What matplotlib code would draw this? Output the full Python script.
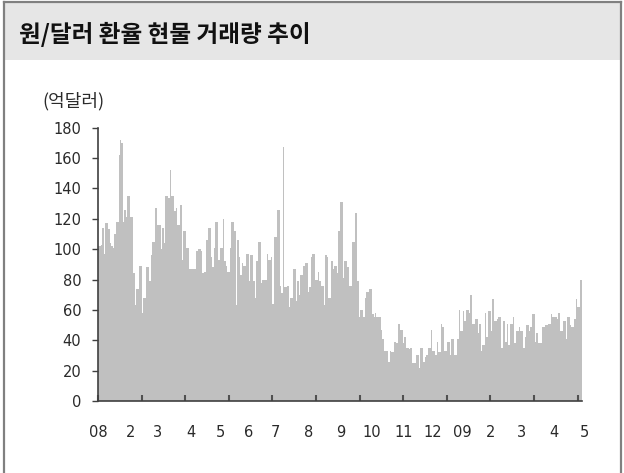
import matplotlib
matplotlib.use("Agg")
import matplotlib.pyplot as plt
from matplotlib.patches import Rectangle
from matplotlib.lines import Line2D

plt.rcParams['font.family'] = ['DejaVu Sans', 'Noto Sans CJK KR']

title = "원/달러 환율 현물 거래량 추이"
unit_label = "(억달러)"

# daily KRW/USD spot trading volume (100 million USD), Jan 2008 - early May 2009
volume = [
    102, 102, 103, 114, 97, 117, 117, 113, 104, 102,
    101, 110, 118, 118, 162, 172, 170, 118, 126, 121,
    135, 135, 121, 121, 84, 63, 74, 74, 89, 89,
    58, 68, 68, 88, 88, 79, 96, 105, 105, 127,
    116, 116, 116, 100, 114, 104, 135, 135, 134, 152,
    135, 135, 125, 127, 116, 116, 129, 93, 112, 112,
    101, 101, 87, 87, 87, 87, 87, 99, 100, 100,
    99, 84, 85, 85, 106, 114, 114, 95, 88, 101,
    118, 118, 93, 101, 101, 120, 92, 89, 85, 85,
    101, 118, 118, 112, 63, 106, 95, 83, 91, 89,
    89, 97, 97, 79, 96, 96, 79, 68, 92, 105,
    105, 78, 80, 80, 80, 97, 93, 93, 95, 64,
    108, 108, 126, 126, 76, 71, 167, 75, 75, 76,
    62, 68, 68, 87, 87, 66, 79, 70, 83, 83,
    89, 91, 91, 72, 75, 95, 97, 97, 80, 80,
    85, 79, 76, 76, 63, 96, 95, 68, 68, 92,
    87, 89, 89, 84, 112, 131, 131, 81, 92, 92,
    88, 76, 76, 105, 105, 124, 124, 79, 55, 60,
    60, 55, 68, 72, 72, 74, 74, 57, 55, 58,
    55, 55, 55, 47, 41, 33, 33, 33, 26, 33,
    32, 32, 39, 38, 38, 51, 47, 47, 38, 42,
    35, 35, 34, 35, 25, 25, 25, 30, 30, 22,
    35, 35, 26, 29, 30, 35, 35, 47, 33, 33,
    30, 39, 32, 32, 51, 49, 33, 33, 39, 39,
    30, 41, 41, 30, 30, 41, 60, 46, 46, 59,
    53, 60, 60, 58, 70, 51, 51, 54, 54, 45,
    51, 33, 37, 37, 58, 42, 59, 59, 46, 67,
    53, 53, 54, 55, 55, 35, 53, 53, 39, 51,
    37, 51, 51, 55, 38, 46, 46, 49, 46, 46,
    35, 42, 50, 50, 46, 49, 57, 57, 39, 45,
    38, 38, 38, 49, 49, 50, 50, 51, 51, 57,
    55, 55, 55, 54, 58, 46, 46, 53, 53, 41,
    55, 55, 50, 49, 49, 54, 67, 62, 62, 80,
]

month_labels = ["08", "2", "3", "4", "5", "6", "7", "8", "9", "10",
                "11", "12", "09", "2", "3", "4", "5"]
y_ticks = [0, 20, 40, 60, 80, 100, 120, 140, 160, 180]

# ---- layout (pixel based) ----
W, H = 624, 473
fig = plt.figure(figsize=(W / 100, H / 100), dpi=100)

ax_left, ax_right = 98, 581.7
ax_bottom, ax_top = 401, 127.7
ax = fig.add_axes([ax_left / W, 1 - ax_bottom / H,
                   (ax_right - ax_left) / W, (ax_bottom - ax_top) / H])

N = len(volume)
ax.bar(range(N), volume, width=1.0, color="#c0c0c0", linewidth=0,
       antialiased=False)
ax.set_xlim(-0.5, N - 0.5)
ax.set_ylim(0, 180)

def px_to_data(px):
    return -0.5 + (px - ax_left) / (ax_right - ax_left) * N

# spines
for s in ["top", "right"]:
    ax.spines[s].set_visible(False)
for s in ["left", "bottom"]:
    ax.spines[s].set_color("#404040")
    ax.spines[s].set_linewidth(1.2)

txt_col = "#2a2a2a"

# y axis
ax.set_yticks(y_ticks)
ax.set_yticklabels([str(v) for v in y_ticks], fontsize=10.5, color=txt_col)
ax.tick_params(axis="y", direction="out", length=4, width=1, color="#404040", pad=8)

# x axis: tick marks every ~43.6 px, labels at month starts
tick_pos = [px_to_data(ax_left + 43.6 * j) for j in range(12)]
ax.set_xticks(tick_pos)
ax.set_xticklabels([])
ax.tick_params(axis="x", direction="in", length=4, width=1.5, color="#505050")

label_px = [98.4, 131, 158, 191, 220, 249, 275, 309, 341, 372,
            404, 433, 462, 491, 521, 554, 584]
for lab, px in zip(month_labels, label_px):
    fig.text(px / W, 1 - 432 / H, lab, ha="center", va="center",
             fontsize=10.5, color=txt_col)

# unit label
fig.text(73 / W, 1 - 101 / H, unit_label, ha="center", va="center",
         fontsize=13, color=txt_col,
         family=['Noto Sans CJK KR', 'DejaVu Sans'])

# title band
fig.patches.append(Rectangle((3 / W, 1 - 60 / H), (621 - 3) / W, (60 - 3) / H,
                             transform=fig.transFigure, facecolor="#e6e6e6",
                             edgecolor="none", zorder=0))
fig.text(19 / W, 1 - 34 / H, title, ha="left", va="center", fontsize=17,
         fontweight="bold", color="#111111",
         family=['Noto Sans CJK KR', 'DejaVu Sans'])

# outer frame (left, top, right)
frame_col = "#808080"
fig.lines.append(Line2D([3.5 / W, 3.5 / W], [0, 1 - 2.5 / H], transform=fig.transFigure,
                        color=frame_col, linewidth=1.6))
fig.lines.append(Line2D([3.5 / W, 620.5 / W], [1 - 2.5 / H, 1 - 2.5 / H],
                        transform=fig.transFigure, color=frame_col, linewidth=1.6))
fig.lines.append(Line2D([620.5 / W, 620.5 / W], [0, 1 - 2.5 / H], transform=fig.transFigure,
                        color=frame_col, linewidth=1.6))

fig.savefig("out.png", dpi=100)
